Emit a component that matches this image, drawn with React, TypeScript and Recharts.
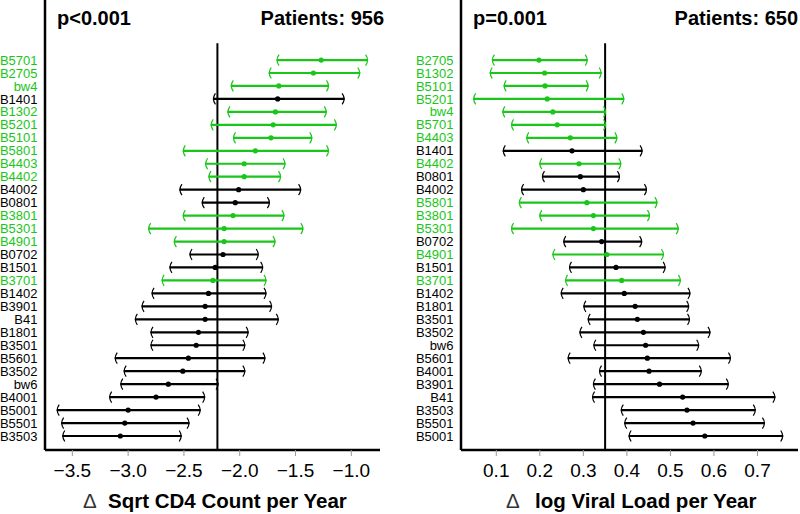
import { ErrorBar, ReferenceLine, Scatter, ScatterChart, XAxis, YAxis } from 'recharts'

const GREEN = '#19c619'
const FONT = '"Liberation Sans", Arial, Helvetica, sans-serif'

// left panel: change in sqrt CD4 count per year
const cd4Alleles = [
  'B5701', 'B2705', 'bw4', 'B1401', 'B1302', 'B5201', 'B5101', 'B5801', 'B4403', 'B4402',
  'B4002', 'B0801', 'B3801', 'B5301', 'B4901', 'B0702', 'B1501', 'B3701', 'B1402', 'B3901',
  'B41', 'B1801', 'B3501', 'B5601', 'B3502', 'bw6', 'B4001', 'B5001', 'B5501', 'B3503',
]
const cd4Mean = [
  -1.27, -1.34, -1.65, -1.66, -1.68, -1.7, -1.72, -1.86, -1.96, -1.96,
  -2.01, -2.04, -2.06, -2.14, -2.14, -2.15, -2.22, -2.24, -2.28, -2.31,
  -2.31, -2.37, -2.39, -2.46, -2.51, -2.64, -2.75, -3.0, -3.03, -3.07,
]
const cd4Lower = [
  -1.67, -1.74, -2.08, -2.24, -2.11, -2.26, -2.06, -2.51, -2.31, -2.28,
  -2.54, -2.34, -2.51, -2.82, -2.59, -2.45, -2.63, -2.7, -2.79, -2.88,
  -2.94, -2.8, -2.8, -3.12, -3.04, -3.07, -3.17, -3.64, -3.6, -3.59,
]
const cd4Upper = [
  -0.85, -0.92, -1.2, -1.06, -1.22, -1.13, -1.35, -1.2, -1.59, -1.63,
  -1.45, -1.73, -1.6, -1.43, -1.68, -1.83, -1.79, -1.76, -1.76, -1.71,
  -1.65, -1.92, -1.95, -1.77, -1.95, -2.19, -2.31, -2.35, -2.45, -2.52,
]
const cd4Highlighted = [
  'B5701', 'B2705', 'bw4', 'B1302', 'B5201', 'B5101', 'B5801', 'B4403', 'B4402',
  'B3801', 'B5301', 'B4901', 'B3701',
]
const cd4Ticks = [-3.5, -3.0, -2.5, -2.0, -1.5, -1.0]

// right panel: change in log viral load per year
const vlAlleles = [
  'B2705', 'B1302', 'B5101', 'B5201', 'bw4', 'B5701', 'B4403', 'B1401', 'B4402', 'B0801',
  'B4002', 'B5801', 'B3801', 'B5301', 'B0702', 'B4901', 'B1501', 'B3701', 'B1402', 'B1801',
  'B3501', 'B3502', 'bw6', 'B5601', 'B4001', 'B3901', 'B41', 'B3503', 'B5501', 'B5001',
]
const vlMean = [
  0.198, 0.211, 0.212, 0.217, 0.23, 0.24, 0.27, 0.274, 0.29, 0.293,
  0.3, 0.308, 0.323, 0.323, 0.342, 0.354, 0.375, 0.388, 0.394, 0.419,
  0.424, 0.438, 0.443, 0.447, 0.451, 0.475, 0.528, 0.538, 0.552, 0.579,
]
const vlLower = [
  0.09, 0.085, 0.117, 0.047, 0.114, 0.134, 0.169, 0.115, 0.199, 0.205,
  0.157, 0.152, 0.199, 0.134, 0.254, 0.229, 0.267, 0.258, 0.248, 0.3,
  0.31, 0.291, 0.323, 0.264, 0.336, 0.322, 0.32, 0.386, 0.394, 0.404,
]
const vlUpper = [
  0.31, 0.342, 0.312, 0.394, 0.352, 0.352, 0.378, 0.436, 0.387, 0.384,
  0.446, 0.47, 0.453, 0.519, 0.435, 0.485, 0.489, 0.524, 0.546, 0.543,
  0.545, 0.592, 0.566, 0.639, 0.572, 0.634, 0.741, 0.696, 0.717, 0.759,
]
const vlHighlighted = [
  'B2705', 'B1302', 'B5101', 'B5201', 'bw4', 'B5701', 'B4403', 'B4402', 'B5801',
  'B3801', 'B5301', 'B4901', 'B3701',
]
const vlTicks = [0.1, 0.2, 0.3, 0.4, 0.5, 0.6, 0.7]

type Row = { row: number; x: number; err: [number, number]; low: number; high: number }

function buildRows(mean: number[], lower: number[], upper: number[]): Row[] {
  return mean.map((m, i) => ({
    row: i + 1,
    x: m,
    err: [m - lower[i], upper[i] - m],
    low: lower[i],
    high: upper[i],
  }))
}

const leftParen = (color: string) => (p: any) => (
  <path
    d={`M${p.cx + 2.5},${p.cy - 5.5} Q${p.cx - 1.5},${p.cy} ${p.cx + 2.5},${p.cy + 5.5}`}
    fill="none"
    stroke={color}
    strokeWidth={1.2}
  />
)
const rightParen = (color: string) => (p: any) => (
  <path
    d={`M${p.cx - 2.5},${p.cy - 5.5} Q${p.cx + 1.5},${p.cy} ${p.cx - 2.5},${p.cy + 5.5}`}
    fill="none"
    stroke={color}
    strokeWidth={1.2}
  />
)
const dot = (color: string) => (p: any) => <circle cx={p.cx} cy={p.cy} r={2.6} fill={color} />

type PanelProps = {
  alleles: string[]
  mean: number[]
  lower: number[]
  upper: number[]
  highlighted: string[]
  ticks: number[]
  domain: [number, number]
  refValue: number
  axisWidth: number
  marginRight: number
  pText: string
  patients: string
  patientsRight: number
  label: string
  deltaLeft: number
  labelLeft: number
}

function ForestPanel(props: PanelProps) {
  const rows = buildRows(props.mean, props.lower, props.upper)
  const isGreen = (r: Row) => props.highlighted.includes(props.alleles[r.row - 1])
  const groups = [
    { color: GREEN, data: rows.filter(isGreen) },
    { color: '#000', data: rows.filter((r) => !isGreen(r)) },
  ]
  const yDomain: [number, number] = [-3.63, 31.08]

  const renderTick = ({ x, y, payload }: any) => {
    const name = props.alleles[payload.value - 1]
    const color = props.highlighted.includes(name) ? GREEN : '#000'
    return (
      <text x={x} y={y} dy={4.6} textAnchor="end" fontSize={13} fill={color} fontFamily={FONT}>
        {name}
      </text>
    )
  }

  return (
    <div style={{ position: 'relative', width: 400, height: 514, fontFamily: FONT }}>
      <ScatterChart
        width={400}
        height={514}
        margin={{ top: 0, right: props.marginRight, bottom: 0, left: 0 }}
      >
        <XAxis
          type="number"
          dataKey="x"
          domain={props.domain}
          ticks={props.ticks}
          allowDataOverflow
          height={64}
          axisLine={{ stroke: '#000', strokeWidth: 2.5 }}
          tickLine={{ stroke: '#999', strokeWidth: 1 }}
          tickSize={6}
          tickMargin={8}
          tick={{ fill: '#000', fontSize: 19, fontFamily: FONT }}
          tickFormatter={(v: number) => v.toFixed(1).replace('-', '\u2212')}
        />
        <YAxis
          type="number"
          dataKey="row"
          domain={yDomain}
          reversed
          allowDataOverflow
          ticks={rows.map((r) => r.row)}
          interval={0}
          width={props.axisWidth}
          axisLine={{ stroke: '#000', strokeWidth: 2.5 }}
          tickLine={false}
          tickSize={6}
          tickMargin={1.5}
          tick={renderTick}
        />
        <ReferenceLine
          segment={[
            { x: props.refValue, y: -0.3 },
            { x: props.refValue, y: yDomain[1] },
          ]}
          stroke="#000"
          strokeWidth={2}
          ifOverflow="visible"
        />
        {groups.map((g) => (
          <Scatter
            key={`bar-${g.color}`}
            data={g.data}
            shape={dot(g.color)}
            isAnimationActive={false}
          >
            <ErrorBar
              dataKey="err"
              direction="x"
              width={0}
              stroke={g.color}
              strokeWidth={2.2}
              isAnimationActive={false}
            />
          </Scatter>
        ))}
        {groups.map((g) => (
          <Scatter
            key={`lo-${g.color}`}
            data={g.data.map((r) => ({ x: r.low, row: r.row }))}
            shape={leftParen(g.color)}
            isAnimationActive={false}
          />
        ))}
        {groups.map((g) => (
          <Scatter
            key={`hi-${g.color}`}
            data={g.data.map((r) => ({ x: r.high, row: r.row }))}
            shape={rightParen(g.color)}
            isAnimationActive={false}
          />
        ))}
      </ScatterChart>
      <div
        style={{
          position: 'absolute',
          top: 8,
          left: props.axisWidth + 12,
          fontSize: 20,
          fontWeight: 'bold',
          lineHeight: 1,
        }}
      >
        {props.pText}
      </div>
      <div
        style={{
          position: 'absolute',
          top: 8,
          right: props.patientsRight,
          fontSize: 20,
          fontWeight: 'bold',
          lineHeight: 1,
        }}
      >
        {props.patients}
      </div>
      <div
        style={{
          position: 'absolute',
          top: 490.5,
          left: props.deltaLeft,
          fontSize: 20.5,
          lineHeight: 1,
          fontWeight: 'normal',
          color: '#333',
        }}
      >
        {'\u0394'}
      </div>
      <div
        style={{
          position: 'absolute',
          top: 490.5,
          left: props.labelLeft,
          fontSize: 20.5,
          fontWeight: 'bold',
          lineHeight: 1,
          whiteSpace: 'nowrap',
        }}
      >
        {props.label}
      </div>
    </div>
  )
}

export default function App() {
  return (
    <div style={{ position: 'absolute', top: 0, left: 0, width: 800, height: 514, display: 'flex', background: '#fff' }}>
      <ForestPanel
        alleles={cd4Alleles}
        mean={cd4Mean}
        lower={cd4Lower}
        upper={cd4Upper}
        highlighted={cd4Highlighted}
        ticks={cd4Ticks}
        domain={[-3.745, -0.743]}
        refValue={-2.2}
        axisWidth={45}
        marginRight={20}
        pText="p<0.001"
        patients="Patients: 956"
        patientsRight={16}
        label="Sqrt CD4 Count per Year"
        deltaLeft={83}
        labelLeft={108}
      />
      <ForestPanel
        alleles={vlAlleles}
        mean={vlMean}
        lower={vlLower}
        upper={vlUpper}
        highlighted={vlHighlighted}
        ticks={vlTicks}
        domain={[0.019, 0.793]}
        refValue={0.35}
        axisWidth={61}
        marginRight={2}
        pText="p=0.001"
        patients="Patients: 650"
        patientsRight={2}
        label="log Viral Load per Year"
        deltaLeft={106}
        labelLeft={135}
      />
    </div>
  )
}
